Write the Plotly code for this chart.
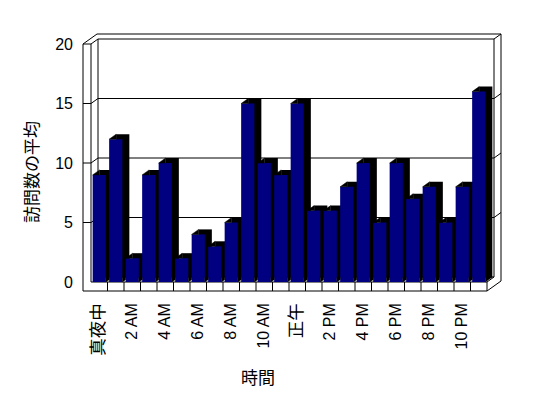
import plotly.graph_objects as go

# ---------------- data ----------------
categories = list(range(24))
visits = [9, 12, 2, 9, 10, 2, 4, 3, 5, 15, 10, 9, 15, 6, 6, 8, 10, 5, 10, 7, 8, 5, 8, 16]
tick_positions = [0, 2, 4, 6, 8, 10, 12, 14, 16, 18, 20, 22]
tick_labels = ["真夜中", "2 AM", "4 AM", "6 AM", "8 AM", "10 AM", "正午",
               "2 PM", "4 PM", "6 PM", "8 PM", "10 PM"]
y_ticks = [0, 5, 10, 15, 20]
x_title = "時間"
y_title = "訪問数の平均"

# ---------------- layout geometry (pixels, page coordinates) ----------------
PAGE_W, PAGE_H = 548, 398
OFF = 8            # default body margin of the page
W, H = PAGE_W - OFF, PAGE_H - OFF
PX_CAT = 16.5      # pixels per category
PX_UNIT = 11.9     # pixels per value unit
ORIGIN_X = 91 - OFF   # pixel x of the left edge of first category (front plane)
ORIGIN_Y = 282 - OFF  # pixel y of value 0 (front plane)
L, R, T, B = 74 - OFF, 518 - OFF, 20 - OFF, 299 - OFF

DX = 7 / PX_CAT    # depth offset in category units
DY = 5 / PX_UNIT   # depth offset in value units
WT = 8 / PX_CAT    # left wall thickness
FT = 9 / PX_UNIT   # floor thickness
BAR_W = 0.8

x_range = [(L - ORIGIN_X) / PX_CAT - 0.5, (R - ORIGIN_X) / PX_CAT - 0.5]
y_range = [(ORIGIN_Y - B) / PX_UNIT, (ORIGIN_Y - T) / PX_UNIT]

n = len(categories)
x0, x1 = -0.5, n - 0.5
top = max(y_ticks)


def P(x, v, d):
    return (x + d * DX, v + d * DY)


def path(pts):
    s = ""
    for k, (x, v, d) in enumerate(pts):
        px, py = P(x, v, d)
        s += ("M" if k == 0 else " L") + f"{px:.5f},{py:.5f}"
    return s


segments = [
    [(x0 - WT, -FT, 0), (x0 - WT, top, 0), (x0, top, 0), (x0, 0, 0), (x1, 0, 0)],
    [(x0 - WT, -FT, 0), (x1, -FT, 0), (x1, 0, 0)],
    [(x0 - WT, top, 0), (x0 - WT, top, 2), (x1, top, 2), (x1, -FT, 2), (x1, -FT, 0)],
    [(x0, top, 0), (x0, top, 1), (x1, top, 1), (x1, top, 2)],
    [(x0, top, 1), (x0, 0, 1), (x1, 0, 1), (x1, 0, 0)],
    [(x1, top, 1), (x1, 0, 1)],
]
for k in range(1, n):
    segments.append([(x0 + k, -FT, 0), (x0 + k, 0, 0)])
for v in y_ticks:
    if 0 < v < top:
        segments.append([(x0 - WT, v, 0), (x0, v, 0), (x0, v, 1), (x1, v, 1), (x1, v, 2)])

shapes = [dict(type="path", xref="x", yref="y", path=path(s),
               line=dict(color="black", width=1), layer="below")
          for s in segments]

# ---------------- bar extrusion helpers ----------------
tri_x, tri_y = [], []
half = BAR_W / 2
gap = 1 - BAR_W
for i, v in zip(categories, visits):
    xl, xr = i - half, i + half
    # top-left corner triangle of top face
    tri_x += [xl, xl + DX, xl + DX, xl, None]
    tri_y += [v, v + DY, v, v, None]
    # bottom-right triangle of side face (clipped by next bar)
    if i < n - 1:
        xn = xr + gap
        tri_x += [xr, xn, xn, xr, xr, None]
        tri_y += [0, DY * gap / DX, DY, DY, 0, None]
    else:
        tri_x += [xr, xr + DX, xr, xr, None]
        tri_y += [0, DY, DY, 0, None]

tick_text = []
for t in tick_labels:
    if any(ord(c) > 127 for c in t):
        tick_text.append(f'<span style="font-size:17.5px">{t}</span>')
    else:
        tick_text.append(t)

fig = go.Figure()
fig.add_trace(go.Bar(x=[c + DX for c in categories], y=visits, base=DY, width=BAR_W,
                     marker=dict(color="black", line=dict(width=0)),
                     hoverinfo="skip", showlegend=False))
fig.add_trace(go.Bar(x=categories, y=visits, width=BAR_W,
                     marker=dict(color="#000080", line=dict(width=0)),
                     showlegend=False))
fig.add_trace(go.Scatter(x=tri_x, y=tri_y, mode="lines", fill="toself",
                         fillcolor="black", line=dict(color="black", width=0.5),
                         hoverinfo="skip", showlegend=False))

font_latin = "Liberation Sans, Noto Sans CJK JP, sans-serif"
font_cjk = "Noto Sans CJK JP, sans-serif"

fig.update_layout(
    width=W, height=H,
    margin=dict(l=L, r=W - R, t=T, b=H - B, pad=0),
    paper_bgcolor="white", plot_bgcolor="white",
    barmode="overlay",
    showlegend=False,
    shapes=shapes,
    xaxis=dict(range=x_range, showgrid=False, zeroline=False, showline=False,
               tickmode="array", tickvals=tick_positions, ticktext=tick_text,
               tickangle=-90, ticks="", fixedrange=True,
               tickfont=dict(family=font_latin, size=16, color="black")),
    yaxis=dict(range=y_range, showgrid=False, zeroline=False, showline=False,
               tickmode="array", tickvals=y_ticks, ticks="", fixedrange=True,
               tickfont=dict(family=font_latin, size=16, color="black")),
    annotations=[
        dict(text=y_title, xref="paper", yref="paper",
             x=(30 - OFF - L) / (R - L), y=(B - (172 - OFF)) / (B - T),
             textangle=-90, showarrow=False,
             font=dict(family=font_cjk, size=17, color="black"),
             xanchor="center", yanchor="middle"),
        dict(text=x_title, xref="paper", yref="paper",
             x=(258 - OFF - L) / (R - L), y=(B - (376 - OFF)) / (B - T),
             showarrow=False,
             font=dict(family=font_cjk, size=17, color="black"),
             xanchor="center", yanchor="middle"),
    ],
)

fig.write_html("out.html")
